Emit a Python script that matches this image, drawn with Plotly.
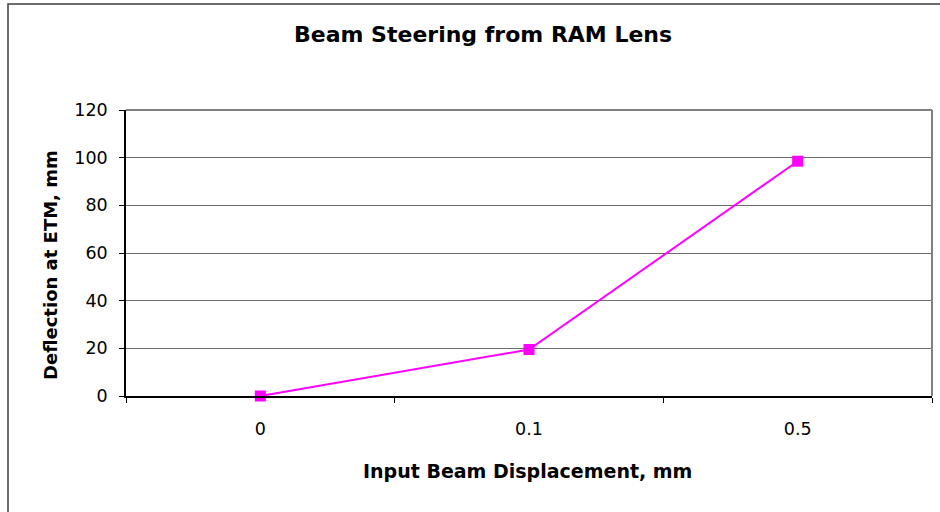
import plotly.graph_objects as go

# Input displacement categories and measured deflection
displacement_labels = ["0", "0.1", "0.5"]
deflection_mm = [0, 19.5, 98.5]
y_ticks = [0, 20, 40, 60, 80, 100, 120]

W, H = 940, 512
L, R, T, B = 126, 8, 110, 116
pw, ph = W - L - R, H - T - B


def px_x(px):
    return (px - L) / pw


def px_y(py):
    return (H - B - py) / ph


FONT = "DejaVu Sans"
MAGENTA = "#FF00FF"

fig = go.Figure()
fig.add_trace(go.Scatter(
    x=displacement_labels,
    y=deflection_mm,
    mode="lines+markers",
    line=dict(color=MAGENTA, width=2),
    marker=dict(symbol="square", size=11, color=MAGENTA),
    showlegend=False,
    cliponaxis=False,
))

fig.update_layout(
    width=W, height=H,
    margin=dict(l=L, r=R, t=T, b=B),
    paper_bgcolor="white",
    plot_bgcolor="white",
    font=dict(family=FONT, size=17.5, color="black"),
    xaxis=dict(
        type="category",
        range=[-0.5, 2.5],
        tickson="boundaries",
        ticks="outside", ticklen=5, tickcolor="black", tickwidth=1,
        showline=True, linecolor="black", linewidth=1.5,
        showgrid=False, zeroline=False,
        ticklabelstandoff=16,
    ),
    yaxis=dict(
        range=[0, 120],
        tickvals=y_ticks,
        ticks="outside", ticklen=5, tickcolor="black", tickwidth=1,
        showline=True, linecolor="black", linewidth=1.5,
        showgrid=True, gridcolor="#6e6e6e", gridwidth=1,
        zeroline=False,
        ticklabelstandoff=8,
    ),
    shapes=[
        # top and right edges of the plot area
        dict(type="line", xref="paper", yref="paper", x0=0, x1=1, y0=1, y1=1,
             line=dict(color="#808080", width=2)),
        dict(type="line", xref="paper", yref="paper", x0=1, x1=1, y0=0, y1=1,
             line=dict(color="#808080", width=2)),
        # chart frame
        dict(type="rect", xref="paper", yref="paper",
             x0=px_x(8), x1=px_x(946), y0=px_y(4), y1=px_y(518),
             line=dict(color="#3c3c3c", width=1.5), layer="below"),
    ],
    annotations=[
        dict(text="<b>Beam Steering from RAM Lens</b>", xref="paper", yref="paper",
             x=px_x(483), y=px_y(35), showarrow=False,
             xanchor="center", yanchor="middle",
             font=dict(family=FONT, size=22, color="black")),
        dict(text="<b>Input Beam Displacement, mm</b>", xref="paper", yref="paper",
             x=px_x(527), y=px_y(471), showarrow=False,
             xanchor="center", yanchor="middle",
             font=dict(family=FONT, size=19, color="black")),
        dict(text="<b>Deflection at ETM, mm</b>", xref="paper", yref="paper",
             x=px_x(50), y=px_y(265), showarrow=False, textangle=-90,
             xanchor="center", yanchor="middle",
             font=dict(family=FONT, size=18, color="black")),
    ],
)

fig.write_html("out.html")
